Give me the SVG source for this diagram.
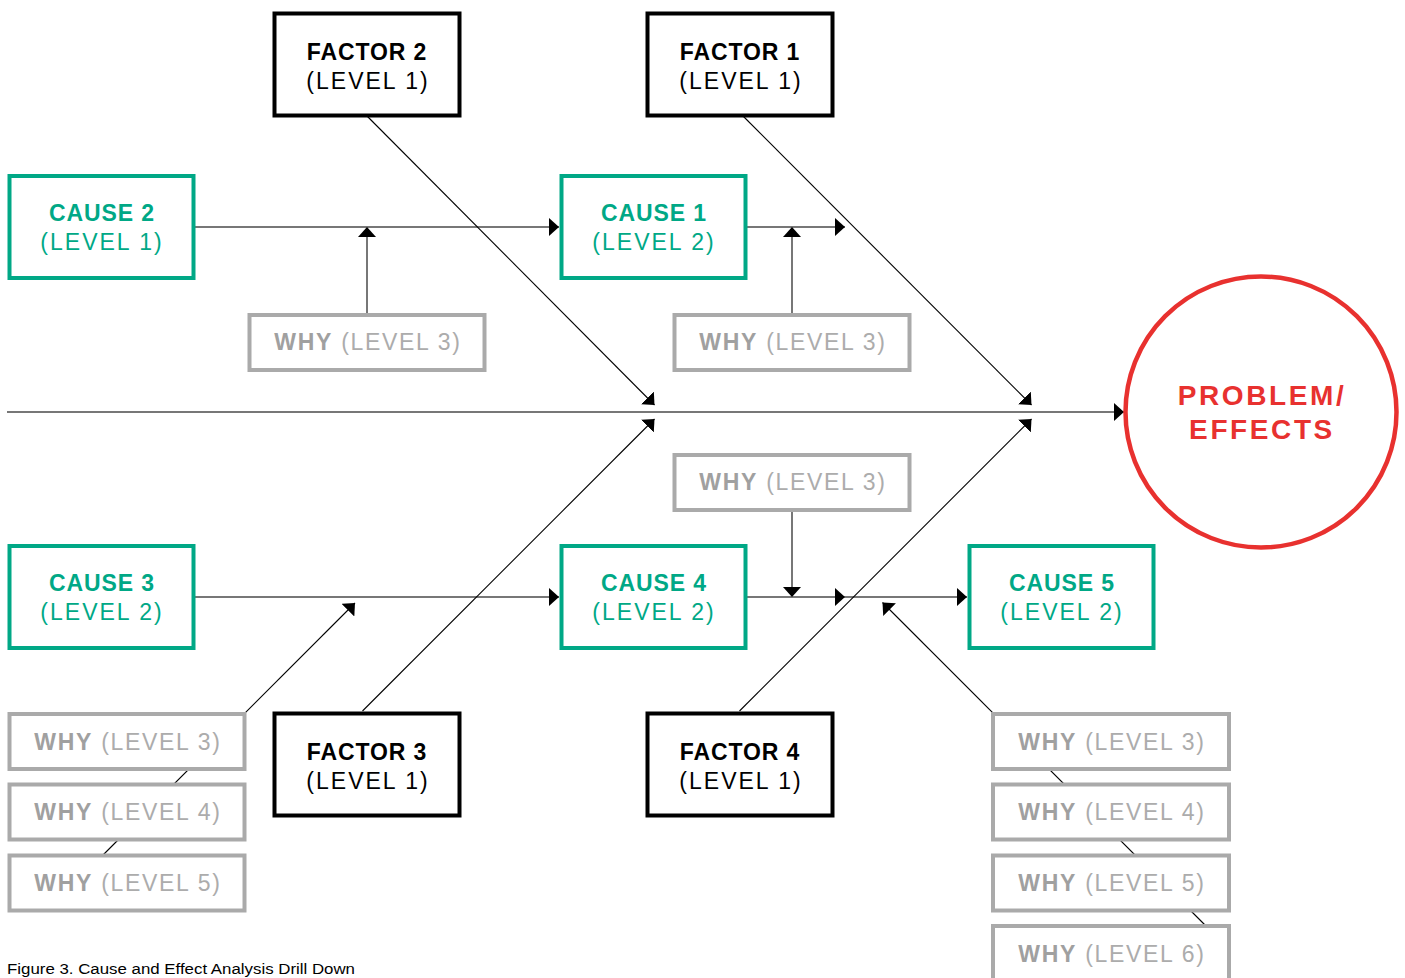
<svg xmlns="http://www.w3.org/2000/svg" width="1405" height="978" viewBox="0 0 1405 978">
<defs>
<marker id="ah" markerUnits="userSpaceOnUse" markerWidth="10" markerHeight="18" refX="10" refY="9" orient="auto" viewBox="0 0 10 18"><path d="M0,0 L10,9 L0,18 z" fill="#000"/></marker>
<style>
text{font-family:"Liberation Sans",Arial,sans-serif;font-size:23px;text-anchor:middle}
.factor rect{fill:#fff;stroke:#000;stroke-width:4}
.cause rect{fill:#fff;stroke:#00a886;stroke-width:4}
.why rect{fill:#fff;stroke:#aaa;stroke-width:4}
.t1{font-weight:bold;letter-spacing:0.9px}
.t2{letter-spacing:2px}
.factor text{fill:#000}
.cause text{fill:#00a886}
.why text{fill:#acacac;letter-spacing:1.7px}
.why .b{font-weight:bold;fill:#a0a0a0}
.ax{stroke:#777;stroke-width:2;fill:none}
.dg{stroke:#000;stroke-width:1.1;fill:none}
.cap{font-size:14px;text-anchor:start;fill:#000}
</style>
</defs>
<rect width="1405" height="978" fill="#fff"/>
<g id="connectors">
<line class="ax" x1="7" y1="412" x2="1124" y2="412" marker-end="url(#ah)"/>
<line class="ax" x1="194" y1="227" x2="559" y2="227" marker-end="url(#ah)"/>
<line class="ax" x1="746" y1="227" x2="845" y2="227" marker-end="url(#ah)"/>
<line class="ax" x1="367" y1="315" x2="367" y2="227" marker-end="url(#ah)"/>
<line class="ax" x1="792" y1="315" x2="792" y2="227" marker-end="url(#ah)"/>
<line class="ax" x1="194" y1="597" x2="559" y2="597" marker-end="url(#ah)"/>
<line class="ax" x1="746" y1="597" x2="845" y2="597" marker-end="url(#ah)"/>
<line class="ax" x1="845" y1="597" x2="967" y2="597" marker-end="url(#ah)"/>
<line class="ax" x1="792" y1="511" x2="792" y2="597" marker-end="url(#ah)"/>
<line class="dg" x1="367" y1="116" x2="654.5" y2="405" marker-end="url(#ah)"/>
<line class="dg" x1="743" y1="116" x2="1031.5" y2="405" marker-end="url(#ah)"/>
<line class="dg" x1="362.5" y1="711" x2="654.5" y2="419" marker-end="url(#ah)"/>
<line class="dg" x1="739.5" y1="711" x2="1031.5" y2="419" marker-end="url(#ah)"/>
<line class="dg" x1="100" y1="858" x2="355" y2="603" marker-end="url(#ah)"/>
<line class="dg" x1="1215" y1="935" x2="882.5" y2="602.5" marker-end="url(#ah)"/>
</g>
<g id="factor2" class="factor"><rect x="274.5" y="13.5" width="185" height="102"/><text class="t1" x="367" y="60">FACTOR 2</text><text class="t2" x="368" y="89">(LEVEL 1)</text></g>
<g id="factor1" class="factor"><rect x="647.5" y="13.5" width="185" height="102"/><text class="t1" x="740" y="60">FACTOR 1</text><text class="t2" x="741" y="89">(LEVEL 1)</text></g>
<g id="factor3" class="factor"><rect x="274.5" y="713.5" width="185" height="102"/><text class="t1" x="367" y="760">FACTOR 3</text><text class="t2" x="368" y="789">(LEVEL 1)</text></g>
<g id="factor4" class="factor"><rect x="647.5" y="713.5" width="185" height="102"/><text class="t1" x="740" y="760">FACTOR 4</text><text class="t2" x="741" y="789">(LEVEL 1)</text></g>
<g id="cause2" class="cause"><rect x="9.5" y="176" width="184" height="102"/><text class="t1" x="102" y="221">CAUSE 2</text><text class="t2" x="102" y="250">(LEVEL 1)</text></g>
<g id="cause1" class="cause"><rect x="561.5" y="176" width="184" height="102"/><text class="t1" x="654" y="221">CAUSE 1</text><text class="t2" x="654" y="250">(LEVEL 2)</text></g>
<g id="cause3" class="cause"><rect x="9.5" y="546" width="184" height="102"/><text class="t1" x="102" y="591">CAUSE 3</text><text class="t2" x="102" y="620">(LEVEL 2)</text></g>
<g id="cause4" class="cause"><rect x="561.5" y="546" width="184" height="102"/><text class="t1" x="654" y="591">CAUSE 4</text><text class="t2" x="654" y="620">(LEVEL 2)</text></g>
<g id="cause5" class="cause"><rect x="969.5" y="546" width="184" height="102"/><text class="t1" x="1062" y="591">CAUSE 5</text><text class="t2" x="1062" y="620">(LEVEL 2)</text></g>
<g id="why-a" class="why"><rect x="249.5" y="315" width="235" height="55"/><text x="368" y="350"><tspan class="b">WHY</tspan> (LEVEL 3)</text></g>
<g id="why-b" class="why"><rect x="674.5" y="315" width="235" height="55"/><text x="793" y="350"><tspan class="b">WHY</tspan> (LEVEL 3)</text></g>
<g id="why-c" class="why"><rect x="674.5" y="455" width="235" height="55"/><text x="793" y="490"><tspan class="b">WHY</tspan> (LEVEL 3)</text></g>
<g id="why-l3" class="why"><rect x="9.5" y="714" width="235" height="55"/><text x="128" y="750"><tspan class="b">WHY</tspan> (LEVEL 3)</text></g>
<g id="why-l4" class="why"><rect x="9.5" y="784.5" width="235" height="55"/><text x="128" y="820"><tspan class="b">WHY</tspan> (LEVEL 4)</text></g>
<g id="why-l5" class="why"><rect x="9.5" y="855.5" width="235" height="55"/><text x="128" y="891"><tspan class="b">WHY</tspan> (LEVEL 5)</text></g>
<g id="why-r3" class="why"><rect x="993" y="714" width="236" height="55"/><text x="1112" y="750"><tspan class="b">WHY</tspan> (LEVEL 3)</text></g>
<g id="why-r4" class="why"><rect x="993" y="784.5" width="236" height="55"/><text x="1112" y="820"><tspan class="b">WHY</tspan> (LEVEL 4)</text></g>
<g id="why-r5" class="why"><rect x="993" y="855.5" width="236" height="55"/><text x="1112" y="891"><tspan class="b">WHY</tspan> (LEVEL 5)</text></g>
<g id="why-r6" class="why"><rect x="993" y="926" width="236" height="60"/><text x="1112" y="962"><tspan class="b">WHY</tspan> (LEVEL 6)</text></g>
<g id="problem"><circle cx="1261" cy="412" r="135.5" fill="#fff" stroke="#e8312f" stroke-width="4.5"/><text x="1262" y="405" style="font-size:28px;font-weight:bold;fill:#e8312f;letter-spacing:2.6px">PROBLEM/</text><text x="1262" y="439" style="font-size:28px;font-weight:bold;fill:#e8312f;letter-spacing:2.6px">EFFECTS</text></g>
<text class="cap" x="7" y="974" textLength="348" lengthAdjust="spacingAndGlyphs">Figure 3.  Cause and Effect Analysis Drill Down</text>
</svg>
